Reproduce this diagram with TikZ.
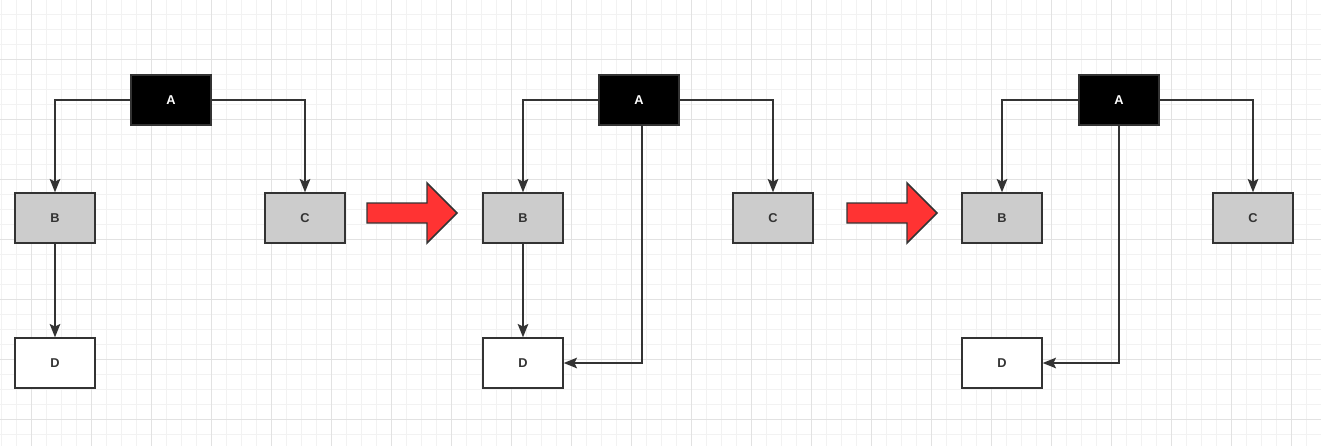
\documentclass[tikz,border=0pt]{standalone}
\usepackage{fontspec}
\setmainfont{Liberation Sans}
\usetikzlibrary{arrows.meta}
\definecolor{ink}{RGB}{51,51,51}
\definecolor{shade}{RGB}{204,204,204}
\definecolor{alert}{RGB}{255,51,51}
\definecolor{gridminor}{RGB}{242,242,242}
\definecolor{gridmajor}{RGB}{226,226,226}

\begin{document}
\begin{tikzpicture}[x=0.75pt,y=-0.75pt,>={Stealth[length=10pt,width=8pt,inset=2pt]},font=\fontsize{9.6}{11}\selectfont\bfseries]
\tikzset{nd/.style={draw=ink,line width=1.1pt,minimum width=60pt,minimum height=37.5pt,inner sep=0pt,text=ink},
  root/.style={nd,fill=black,text=white},mid/.style={nd,fill=shade},leaf/.style={nd,fill=white},
  arr/.style={->,line width=1pt,draw=ink},bigarr/.style={draw=ink,line width=1.1pt,fill=alert,line join=miter}}
\useasboundingbox (0,0) rectangle (1321,446);
% background grid
\fill[white] (0,0) rectangle (1321,446);
\foreach \x in {1.3,16.3,...,1321} \draw[gridminor,line width=0.75pt] (\x,0) -- (\x,446);
\foreach \y in {-0.7,14.3,...,446} \draw[gridminor,line width=0.75pt] (0,\y) -- (1321,\y);
\foreach \x in {31.3,91.3,...,1321} \draw[gridmajor,line width=0.75pt] (\x,0) -- (\x,446);
\foreach \y in {59.3,119.3,...,446} \draw[gridmajor,line width=0.75pt] (0,\y) -- (1321,\y);
% first tree
\node[root] (a1) at (171,100) {A};
\node[mid] (b1) at (55,218) {B};
\node[mid] (c1) at (305,218) {C};
\node[leaf] (d1) at (55,363) {D};
\draw[arr] (a1.west) -| (b1.north);\draw[arr] (a1.east) -| (c1.north);\draw[arr] (b1.south) -- (d1.north);
% second tree
\node[root] (a2) at (639,100) {A};
\node[mid] (b2) at (523,218) {B};
\node[mid] (c2) at (773,218) {C};
\node[leaf] (d2) at (523,363) {D};
\draw[arr] (a2.west) -| (b2.north);\draw[arr] (a2.east) -| (c2.north);\draw[arr] (b2.south) -- (d2.north);
\draw[arr] ([xshift=2.25pt]a2.south) |- (d2.east);
% third tree
\node[root] (a3) at (1119,100) {A};
\node[mid] (b3) at (1002,218) {B};
\node[mid] (c3) at (1253,218) {C};
\node[leaf] (d3) at (1002,363) {D};
\draw[arr] (a3.west) -| (b3.north);\draw[arr] (a3.east) -| (c3.north);
\draw[arr] (a3.south) |- (d3.east);
% step arrows
\draw[bigarr] (367,203) -- (427,203) -- (427,183) -- (457,213) -- (427,243) -- (427,223) -- (367,223) -- cycle;
\draw[bigarr] (847,203) -- (907,203) -- (907,183) -- (937,213) -- (907,243) -- (907,223) -- (847,223) -- cycle;
\end{tikzpicture}
\end{document}
